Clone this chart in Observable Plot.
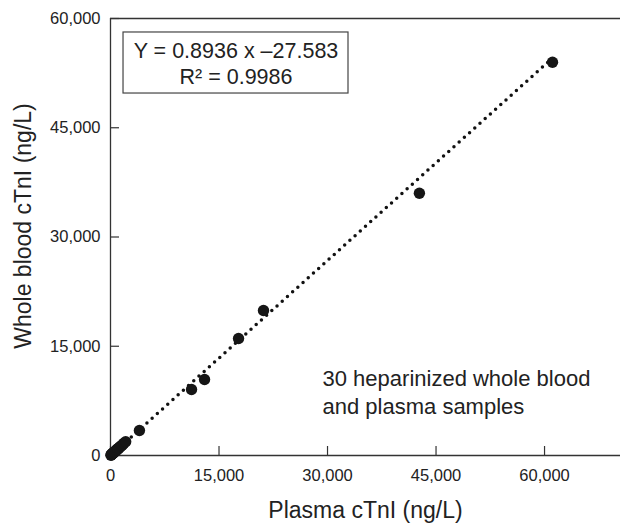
<!DOCTYPE html>
<html>
<head>
<meta charset="utf-8">
<script src="https://cdn.jsdelivr.net/npm/d3@7"></script>
<script src="https://cdn.jsdelivr.net/npm/@observablehq/plot@0.6"></script>
<style>
  html, body { margin: 0; padding: 0; background: #fff; }
  #chart svg { display: block; }
</style>
</head>
<body>
<div id="chart"></div>
<script>
// Plasma cTnI (ng/L), x
const plasma = [60, 110, 150, 210, 260, 320, 380, 430, 500, 560, 640, 720, 800, 880, 960, 1050, 1150, 1250, 1380, 1500, 1650, 1850, 2100,
                4000, 11200, 13000, 17700, 21150, 42700, 61100];
// Whole blood cTnI (ng/L), y
const whole  = [40, 120, 90, 200, 230, 300, 310, 400, 450, 520, 560, 650, 700, 800, 850, 960, 1000, 1120, 1230, 1350, 1450, 1680, 1900,
                3430, 9060, 10430, 16060, 19910, 36000, 54000];
const ticks = [0, 15000, 30000, 45000, 60000];
const slope = 0.8936, intercept = -27.583;
const fitRange = [0, 60500];
const equationLines = ["Y = 0.8936 x –27.583", "R² = 0.9986"];
const noteLines = ["30 heparinized whole blood", "and plasma samples"];
const xTitle = "Plasma cTnI (ng/L)";
const yTitle = "Whole blood cTnI (ng/L)";

const samples = plasma.map((x, i) => ({x, y: whole[i]}));
const fit = fitRange.map(x => ({x, y: slope * x + intercept}));
const fmt = d3.format(",");
const font = "'Liberation Sans', Arial, sans-serif";
const tickLenX = 1240, tickLenY = 1245; // ~9px inward ticks, in data units

const chart = Plot.plot({
  width: 620,
  height: 524,
  marginLeft: 110,
  marginRight: 0,
  marginTop: 18,
  marginBottom: 69,
  style: {fontFamily: font, fontSize: "16.5px", background: "#fff", color: "#222"},
  x: {domain: [0, 70500]},
  y: {domain: [0, 60000]},
  marks: [
    // frame lines
    Plot.ruleY([0, 60000], {stroke: "#333", strokeWidth: 1.3}),
    Plot.ruleX([0], {stroke: "#333", strokeWidth: 1.3}),
    // tick labels
    Plot.axisX({ticks, tickSize: 0, tickPadding: 14, tickFormat: fmt, fontSize: 16.5, label: null}),
    Plot.axisY({ticks, tickSize: 0, tickPadding: 10, tickFormat: fmt, fontSize: 16.5, label: null}),
    // inward ticks
    Plot.ruleX(ticks, {x: d => d, y1: 0, y2: tickLenX, stroke: "#333", strokeWidth: 1.2}),
    Plot.ruleY(ticks, {y: d => d, x1: 0, x2: tickLenY, stroke: "#333", strokeWidth: 1.2}),
    // regression dotted line
    Plot.line(fit, {x: "x", y: "y", stroke: "#111", strokeWidth: 3.5, strokeDasharray: "0 7", strokeLinecap: "round"}),
    // points
    Plot.dot(samples, {x: "x", y: "y", r: 5.7, fill: "#161616", stroke: "none"}),
    // equation box
    Plot.rect([{x1: 1800, x2: 32900, y1: 49700, y2: 58080}], {x1: "x1", x2: "x2", y1: "y1", y2: "y2", fill: "#fff", stroke: "#444", strokeWidth: 1.2}),
    Plot.text([equationLines.join("\n")], {x: 17350, y: 53900, fontSize: 21.5, lineHeight: 1.21, lineAnchor: "middle", fill: "#222"}),
    // note
    Plot.text([noteLines.join("\n")], {x: 29310, y: 8790, textAnchor: "start", fontSize: 22, lineHeight: 1.27, lineAnchor: "middle", fill: "#222"}),
    // axis titles
    Plot.text([xTitle], {frameAnchor: "bottom", dy: 55, textAnchor: "middle", lineAnchor: "middle", fontSize: 23, fill: "#222"}),
    Plot.text([yTitle], {frameAnchor: "left", dx: -87, dy: -11, rotate: -90, textAnchor: "middle", lineAnchor: "middle", fontSize: 23, fill: "#222"})
  ]
});
document.getElementById("chart").appendChild(chart);
</script>
</body>
</html>
